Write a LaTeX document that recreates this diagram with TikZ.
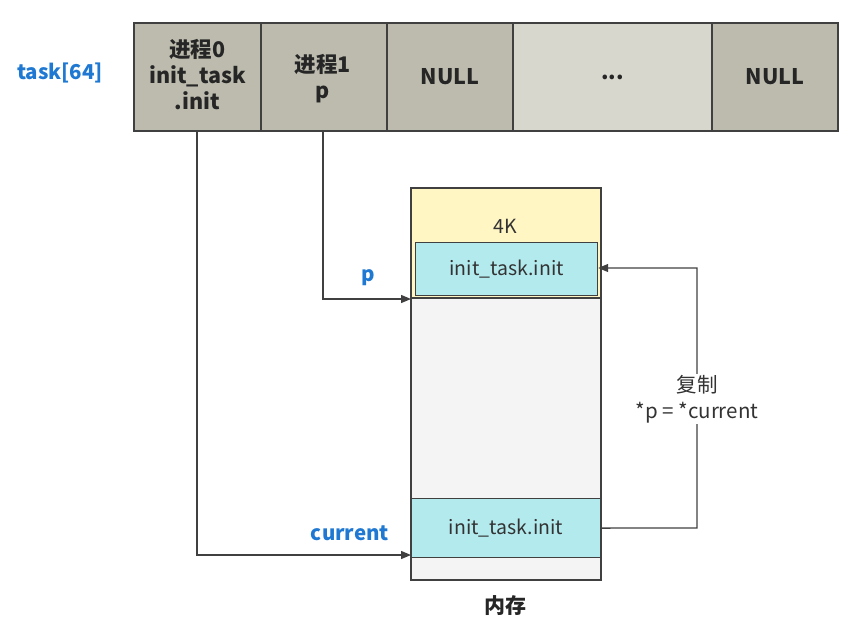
\documentclass[tikz,border=0pt]{standalone}
\usepackage{fontspec}
\setmainfont{Noto Sans CJK SC}
\usetikzlibrary{arrows.meta}
\definecolor{cellg}{HTML}{BCBBAE}
\definecolor{celll}{HTML}{D7D7CD}
\definecolor{yel}{HTML}{FFF6C4}
\definecolor{cy}{HTML}{B3EAEE}
\definecolor{memg}{HTML}{F4F4F4}
\definecolor{blu}{HTML}{1F78D1}
\definecolor{edge}{HTML}{404040}
\tikzset{
  cell/.style={draw=edge,line width=1.2pt,fill=cellg,font=\bfseries\fontsize{21.5}{26}\selectfont,text=black!85,align=center},
  conn/.style={draw=edge,line width=1.3pt,-{Triangle[length=10pt,width=8pt]}},
  lbl/.style={text=blu,font=\bfseries\fontsize{20.5}{24}\selectfont},
  plain/.style={text=black!80,font=\fontsize{19.5}{26}\selectfont,align=center}
}
\begin{document}
\begin{tikzpicture}[x=1pt,y=-1pt]
\useasboundingbox (0,0) rectangle (849,630);
% array
\path[cell] (134,23) rectangle (261,131);
\path[cell] (261,23) rectangle (387,131);
\path[cell] (387,23) rectangle (513,131);
\path[cell,fill=celll] (513,23) rectangle (712,131);
\path[cell] (712,23) rectangle (838,131);
\node[cell,draw=none,fill=none] (c0) at (197.5,75) {进程0\\init\_task\\.init};
\node[cell,draw=none,fill=none] (c1) at (323,79) {进程1\\p};
\node[cell,draw=none,fill=none] (c2) at (450,77) {NULL};
\node[cell,draw=none,fill=none] (c3) at (612.5,77) {...};
\node[cell,draw=none,fill=none] (c4) at (775,77) {NULL};
\node[lbl] (task) at (60,73) {task[64]};
% memory
\path[draw=edge,line width=1.2pt,fill=memg] (411,188) rectangle (601,580);
\path[draw=edge,line width=1.2pt,fill=yel] (411,188) rectangle (601,298);
\node[plain] (k4) at (505,226) {4K};
\node[draw=edge,line width=1.2pt,fill=cy,minimum width=182pt,minimum height=53pt,anchor=north west] (top) at (415,242) {};
\node[plain] at (top.center) {init\_task.init};
\node[draw=edge,line width=1.2pt,fill=cy,minimum width=189pt,minimum height=59pt,anchor=north west] (bot) at (411,498) {};
\node[plain] at (bot.center) {init\_task.init};
\node[font=\bfseries\fontsize{21}{24}\selectfont,text=black!85] (mem) at (505,606) {内存};
\coordinate (pin) at (411,299);
\coordinate (cin) at (411,555);
% connectors
\draw[conn] (197,131) -- (197,555) -- (cin);
\draw[conn] (323,131) -- (323,299) -- (pin);
\draw[conn] (bot.east) -- (697,528) -- (697,268) -- (top.east |- 0,268);
\node[lbl] (plbl) at (368,278) {p};
\node[lbl] (clbl) at (350,533) {current};
\node[plain,fill=white,inner sep=1pt,font=\fontsize{20.5}{26}\selectfont] (copy) at (697,399) {复制\\*p = *current};
\end{tikzpicture}
\end{document}
